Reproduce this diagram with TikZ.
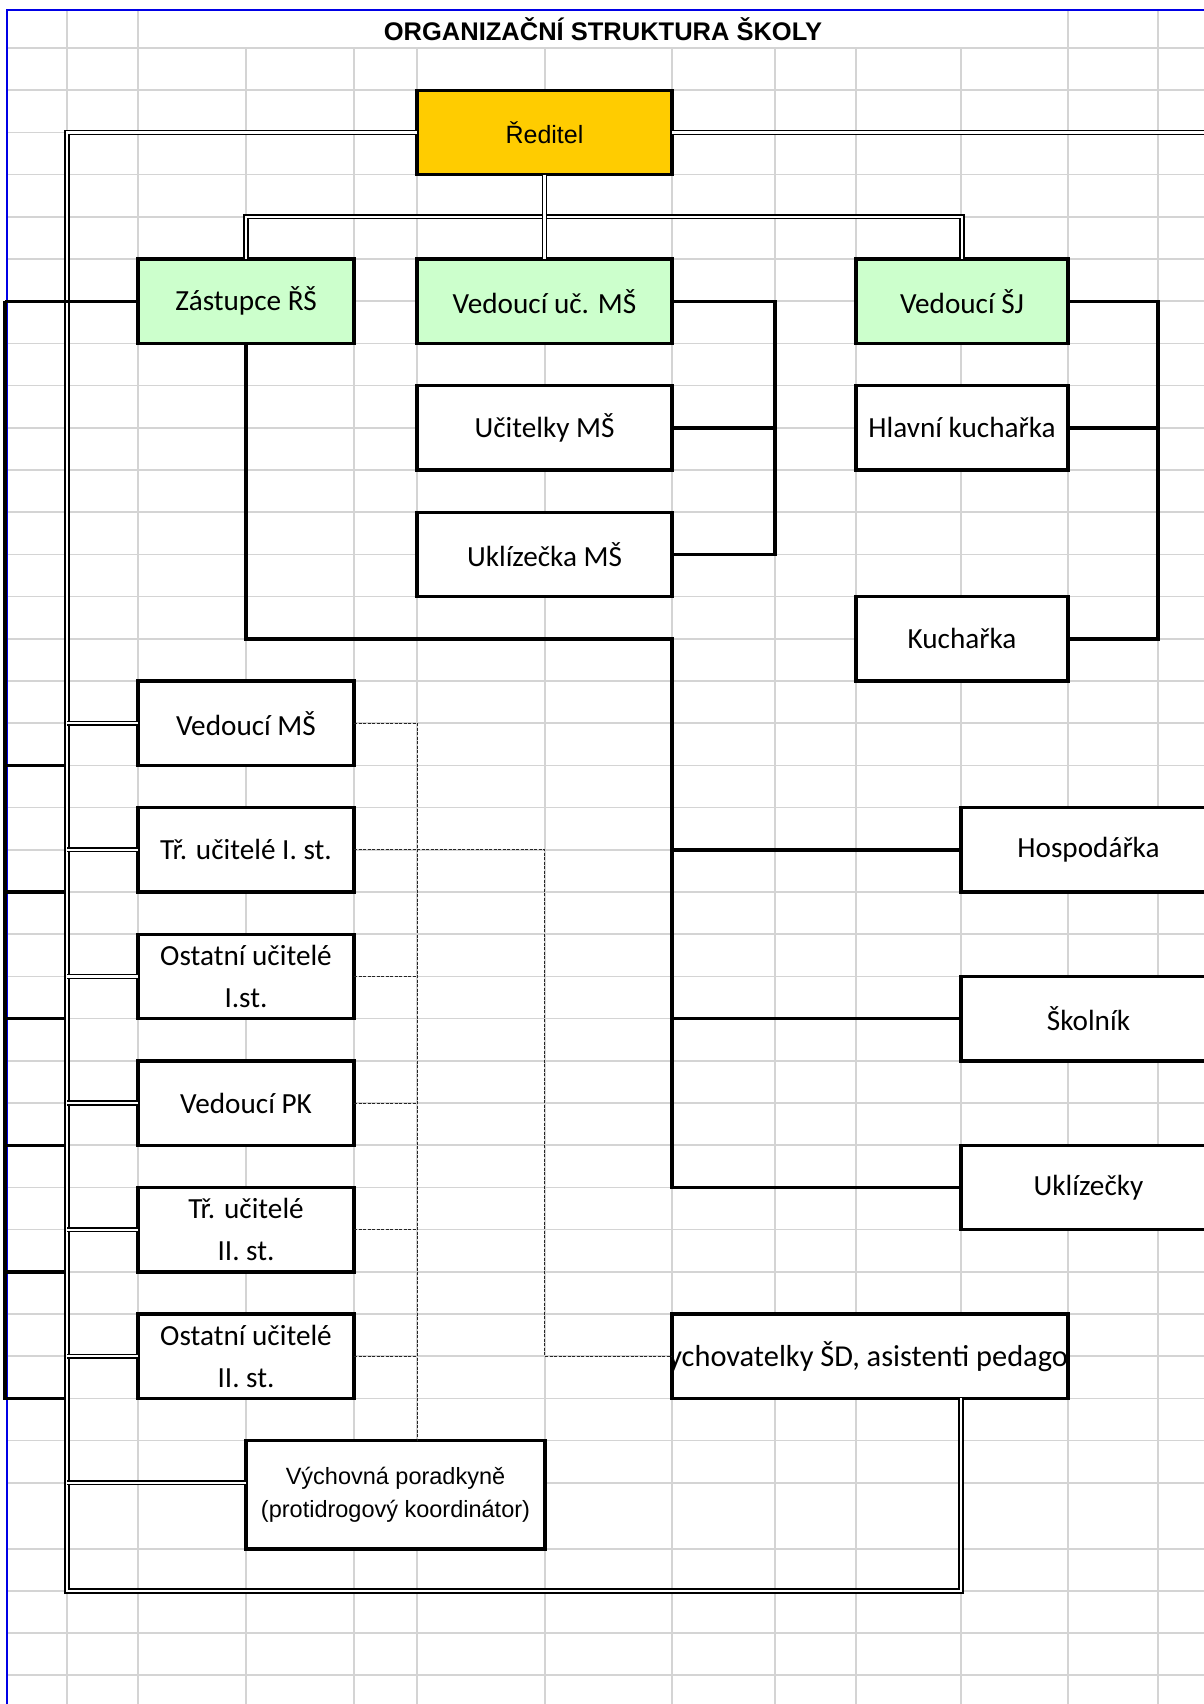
\documentclass[tikz,border=0pt]{standalone}
\usepackage{fontspec}
\newfontfamily\calfont{Carlito}
\newfontfamily\arialfont{Liberation Sans}
\usetikzlibrary{positioning, calc}
\definecolor{gold}{RGB}{255,204,0}
\definecolor{mint}{RGB}{204,255,204}
\definecolor{gridgray}{RGB}{212,212,212}
\definecolor{pageblue}{RGB}{0,0,230}
\tikzstyle{chief} = [rectangle, minimum width=127.5pt, minimum height=42.2pt, inner sep=0pt, outer sep=0pt, align=center, draw=black, line width=1.7pt, fill=gold, font=\arialfont\fontsize{12.5}{15}\selectfont]
\tikzstyle{deputy} = [rectangle, minimum height=42.2pt, inner sep=0pt, outer sep=0pt, align=center, draw=black, line width=1.7pt, fill=mint, font=\calfont\fontsize{14.6}{21.1}\selectfont]
\tikzstyle{worker} = [rectangle, minimum height=42.2pt, inner sep=0pt, outer sep=0pt, align=center, draw=black, line width=1.7pt, fill=white, font=\calfont\fontsize{14.6}{21.1}\selectfont]
\tikzstyle{solidline} = [line width=1.7pt]
\tikzstyle{dblline} = [double, line width=0.75pt, double distance=1.1pt]
\tikzstyle{dotline} = [line width=0.5pt, dash pattern=on 1.5pt off 0.75pt, black!85]
\tikzstyle{gridline} = [gridgray, line width=0.75pt]

\begin{document}
\begin{tikzpicture}[x=0.5pt, y=-0.5pt, node distance=21.1pt]
    \useasboundingbox (0,0) rectangle (1204,1704);
    \clip (0,0) rectangle (1204,1704);

    % sheet grid
    \foreach \gx in {67,138,1068,1158}
        \draw[gridline] (\gx,10) -- (\gx,1704);
    \foreach \gx in {246,354,417,545,672,775,856,961}
        \draw[gridline] (\gx,48) -- (\gx,1704);
    \foreach \k in {0,...,34}
        \draw[gridline] (7,48+42.2*\k) -- (1204,48+42.2*\k);
    \foreach \gy in {1549,1591,1633,1675}
        \draw[gridline] (7,\gy) -- (1204,\gy);
    \draw[pageblue, line width=1pt] (1204,10) -- (7,10) -- (7,1704);

    \node[font=\arialfont\bfseries\fontsize{12.75}{16}\selectfont] (title) at (603,29) {ORGANIZAČNÍ STRUKTURA ŠKOLY};

    \node[chief] (reditel) at (544.5,132.4) {Ředitel};
    \node[deputy, minimum width=127.5pt, below=42.2pt of reditel] (veducms) {Vedoucí uč. MŠ};
    \node[deputy, minimum width=108pt, left=31.5pt of veducms] (zastupce) {Zástupce ŘŠ};
    \node[deputy, minimum width=106pt, right=92pt of veducms] (vedsj) {Vedoucí ŠJ};
    \node[worker, minimum width=127.5pt, below=of veducms] (ucitelky) {Učitelky MŠ};
    \node[worker, minimum width=127.5pt, below=of ucitelky] (uklizecka) {Uklízečka MŠ};
    \node[worker, minimum width=106pt, below=of vedsj] (hlavni) {Hlavní kuchařka};
    \node[worker, minimum width=106pt, below=63.3pt of hlavni] (kucharka) {Kuchařka};

    \node[worker, minimum width=108pt, below=168.8pt of zastupce] (vedms) {Vedoucí MŠ};
    \node[worker, minimum width=108pt, below=of vedms] (triI) {Tř. učitelé I. st.};
    \node[worker, minimum width=108pt, below=of triI] (ostI) {Ostatní učitelé\\I.st.};
    \node[worker, minimum width=108pt, below=of ostI] (vedpk) {Vedoucí PK};
    \node[worker, minimum width=108pt, below=of vedpk] (triII) {Tř. učitelé\\II. st.};
    \node[worker, minimum width=108pt, below=of triII] (ostII) {Ostatní učitelé\\II. st.};
    \node[worker, minimum width=149.5pt, minimum height=54.2pt, font=\arialfont\fontsize{11.75}{16.3}\selectfont, below right=21.1pt and 0pt of ostII.south] (vychpor) {Výchovná poradkyně\\(protidrogový koordinátor)};

    \node[worker, minimum width=127.5pt, right=303.5pt of triI] (hosp) {Hospodářka};
    \node[worker, minimum width=127.5pt, below=42.2pt of hosp] (skolnik) {Školník};
    \node[worker, minimum width=127.5pt, below=42.2pt of skolnik] (uklizecky) {Uklízečky};
    \node[worker, minimum width=198pt, right=159pt of ostII] (vych) {};
    \begin{scope}
        \clip ([shift={(0.85pt,0.85pt)}]vych.south west) rectangle ([shift={(-0.85pt,-0.85pt)}]vych.north east);
        \node[font=\calfont\fontsize{15.2}{21.1}\selectfont, anchor=west, inner sep=0pt] (vychtext) at ([xshift=-9pt]vych.west) {vychovatelky ŠD, asistenti pedagogů};
    \end{scope}

    \coordinate (lrail) at (67,0);
    \coordinate (lside) at (5,0);
    \coordinate (mrail) at (775,0);
    \coordinate (srail) at (1158,0);
    \coordinate (rend) at (1210,0);
    \coordinate (lbot) at (67,1591);
    \coordinate (tbar) at ($(reditel.south)!0.5!(veducms.north)$);

    % left bracket
    \draw[solidline] (zastupce.west -| lside) -- (ostII.south -| lside) -- (ostII.south -| lrail);
    \foreach \n in {vedms,triI,ostI,vedpk,triII}
        \draw[solidline] (\n.south -| lside) -- (\n.south -| lrail);

    % double lines
    \draw[dblline] (zastupce.north) |- (tbar) -| (vedsj.north);
    \draw[dblline] (reditel) -- (veducms);
    \draw[dblline] (reditel.west) -| (lbot) -| (vych.south -| hosp.west);
    \draw[dblline] (reditel.east) -- (reditel.east -| rend);
    \foreach \n in {vedms,triI,ostI,vedpk,triII,ostII}
        \draw[dblline] (\n.west) -- (\n.west -| lrail);
    \draw[dblline] ([yshift=6pt]vychpor.west) -- ([yshift=6pt]vychpor.west -| lrail);

    % solid lines
    \draw[solidline] (zastupce.west) -- (zastupce.west -| lside);
    \draw[solidline] (zastupce.south) |- (uklizecka.east |- kucharka.west) |- (uklizecky.west);
    \draw[solidline] (hosp.west) -- (hosp.west -| uklizecka.east);
    \draw[solidline] (skolnik.west) -- (skolnik.west -| uklizecka.east);
    \draw[solidline] (veducms.east) -| (uklizecka.east -| mrail) -- (uklizecka.east);
    \draw[solidline] (ucitelky.east) -- (ucitelky.east -| mrail);
    \draw[solidline] (vedsj.east) -| (kucharka.east -| srail) -- (kucharka.east);
    \draw[solidline] (hlavni.east) -- (hlavni.east -| srail);

    % dotted lines
    \draw[dotline] (vedms.east) -| (vychpor.north -| ucitelky.west);
    \foreach \n in {triI,ostI,vedpk,triII,ostII}
        \draw[dotline] (\n.east) -- (\n.east -| ucitelky.west);
    \draw[dotline] (triI.east) -| (vych.west -| veducms.south) -- (vych.west);
\end{tikzpicture}
\end{document}
